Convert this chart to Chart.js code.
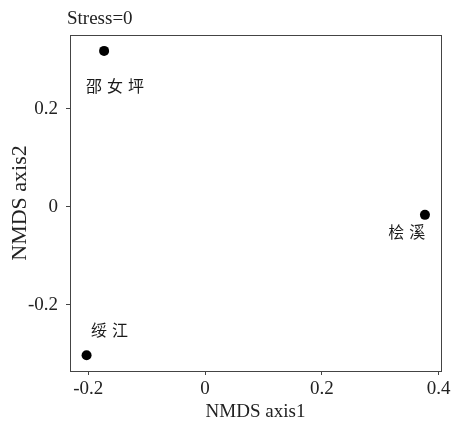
<!DOCTYPE html>
<html>
<head>
<meta charset="utf-8">
<script src="https://cdn.jsdelivr.net/npm/chart.js@4/dist/chart.umd.min.js"></script>
<style>
  html, body { margin: 0; padding: 0; background: #fff; }
  #wrap { width: 460px; height: 424px; position: relative; }
</style>
</head>
<body>
<div id="wrap"><canvas id="c" width="460" height="424"></canvas></div>
<script>
// ---- data ----
const sites = ["邵女坪", "绥江", "桧溪"];
const axis1 = [-0.173, -0.203, 0.3765];
const axis2 = [0.318, -0.3027, -0.0163];
const xTicks = [-0.2, 0, 0.2, 0.4];
const yTicks = [-0.2, 0, 0.2];
const titleText = "Stress=0";
const xTitle = "NMDS axis1";
const yTitle = "NMDS axis2";

// ---- label placement (style, not data): offset of label's left edge / vertical centre from the point ----
const labelOffsets = [[-18, 35], [4.5, -25], [-36.7, 17]];

const serif = "'Liberation Serif', 'Times New Roman', serif";
const cjk = "'Noto Sans CJK SC', sans-serif";
const ink = '#222';

const points = axis1.map((x, i) => ({ x: x, y: axis2[i] }));

const framePlugin = {
  id: 'frame',
  beforeDatasetsDraw(chart) {
    const { ctx, chartArea: a } = chart;
    ctx.save();
    ctx.strokeStyle = '#444';
    ctx.lineWidth = 1;
    ctx.strokeRect(Math.round(a.left) + 0.5, Math.round(a.top) + 0.5,
                   Math.round(a.right - a.left), Math.round(a.bottom - a.top));
    ctx.restore();
  },
  afterDraw(chart) {
    const { ctx, chartArea: a } = chart;
    ctx.save();
    ctx.fillStyle = ink;
    ctx.font = '19px ' + serif;
    ctx.textBaseline = 'middle';
    ctx.textAlign = 'left';
    ctx.fillText(titleText, a.left - 3, 19);
    // point labels
    const meta = chart.getDatasetMeta(0);
    ctx.font = '16px ' + cjk;
    ctx.fillStyle = '#1a1a1a';
    meta.data.forEach((el, i) => {
      const chars = Array.from(sites[i]);
      const x0 = el.x + labelOffsets[i][0];
      const yc = el.y + labelOffsets[i][1];
      chars.forEach((ch, k) => ctx.fillText(ch, x0 + k * 21, yc));
    });
    ctx.restore();
  }
};

const fmt = v => (Math.abs(v) < 1e-9 ? '0' : String(Math.round(v * 10) / 10));

new Chart(document.getElementById('c'), {
  type: 'scatter',
  data: {
    datasets: [{
      data: points,
      pointRadius: 5,
      pointHoverRadius: 5,
      backgroundColor: '#000',
      borderColor: '#000',
      borderWidth: 0
    }]
  },
  options: {
    responsive: false,
    animation: false,
    events: [],
    layout: { padding: { top: 35, right: 19, left: 0, bottom: 0 } },
    plugins: { legend: { display: false }, tooltip: { enabled: false }, title: { display: false } },
    scales: {
      x: {
        type: 'linear',
        min: -0.2314, max: 0.404,
        afterBuildTicks: s => { s.ticks = xTicks.map(v => ({ value: v })); },
        afterFit: s => { s.height = 53; },
        border: { display: false },
        grid: { drawOnChartArea: false, drawTicks: true, tickLength: 4, color: '#444' },
        ticks: { callback: fmt, color: ink, font: { family: serif, size: 19 }, padding: 3, maxRotation: 0, autoSkip: false },
        title: { display: true, text: xTitle, color: ink, font: { family: serif, size: 19 }, padding: { top: 0, bottom: 1 } }
      },
      y: {
        type: 'linear',
        min: -0.3347, max: 0.3504,
        afterBuildTicks: s => { s.ticks = yTicks.map(v => ({ value: v })); },
        afterFit: s => { s.width = 70; },
        border: { display: false },
        grid: { drawOnChartArea: false, drawTicks: true, tickLength: 4, color: '#444' },
        ticks: { callback: fmt, color: ink, font: { family: serif, size: 19 }, padding: 8, autoSkip: false },
        title: { display: true, text: yTitle, color: ink, font: { family: serif, size: 22 }, padding: { top: 7, bottom: 0 } }
      }
    }
  },
  plugins: [framePlugin]
});
</script>
</body>
</html>
